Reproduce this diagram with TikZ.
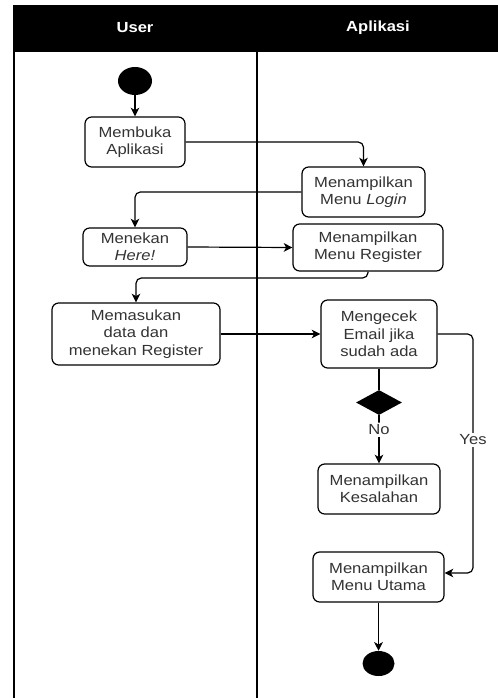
\documentclass[tikz,border=0pt]{standalone}
\usepackage{fontspec}
\setmainfont{Liberation Sans}[FakeStretch=1.13]
\usetikzlibrary{arrows.meta,shapes.geometric}
\definecolor{txt}{HTML}{333333}
\tikzset{
  sz/.style 2 args={minimum width=#1*0.75pt, minimum height=#2*0.75pt},
  actbox/.style={draw=black, line width=0.9pt, rounded corners=5pt, align=center,
    inner sep=0pt, text=txt, font=\fontsize{11}{13}\selectfont},
  dot/.style={ellipse, fill=black, draw=none, inner sep=0pt},
  flow/.style={draw=black, line width=0.9pt, rounded corners=4pt,
    -{Stealth[length=6.5pt,width=6.5pt,inset=1.8pt]}},
  plain/.style={draw=black, line width=0.9pt},
  lanehead/.style={text=white, font=\bfseries\fontsize{11}{13}\selectfont},
  guard/.style={fill=white, text=txt, inner sep=1.5pt, font=\fontsize{11}{13}\selectfont},
  lane/.style={draw=black, line width=1.2pt}
}
\begin{document}
\begin{tikzpicture}[x=0.75pt,y=-0.75pt]
\useasboundingbox (0,0) rectangle (498,698);
\fill[white] (0,0) rectangle (498,698);

% swimlane frame
\fill[black] (13,5) rectangle (498,52);
\draw[lane] (14,52) -- (14,698);
\draw[lane] (257,52) -- (257,698);
\node[lanehead] (hUser) at (135,28) {User};
\node[lanehead] (hApp) at (378,28) {Aplikasi};

% activities
\node[dot, sz={34}{28}] (start) at (135,81) {};
\node[actbox, sz={100}{50}] (mb) at (135,142) {Membuka\\Aplikasi};
\node[actbox, sz={123}{50}] (login) at (363.5,192) {Menampilkan\\Menu \textit{Login}};
\node[actbox, sz={104}{38}] (men) at (135,247) {Menekan\\\textit{Here!}};
\node[actbox, sz={150}{47}] (reg) at (368,247.5) {Menampilkan\\Menu Register};
\node[actbox, sz={168}{62}] (mas) at (136,334) {Memasukan\\data dan\\menekan Register};
\node[actbox, sz={116}{68}] (cek) at (379,334) {Mengecek\\Email jika\\sudah ada};
\node[diamond, fill=black, inner sep=0pt, sz={46}{25}] (dec) at (379,402.5) {};
\node[actbox, sz={122}{50}] (kes) at (379,489) {Menampilkan\\Kesalahan};
\node[actbox, sz={131}{50}] (uta) at (378.5,577) {Menampilkan\\Menu Utama};
\node[dot, sz={32}{25}] (end) at (378.5,663.5) {};

% bends
\coordinate (regdrop) at (368,278);
\coordinate (yescorner) at (473,334);
\coordinate (yesin) at (473,573);

% transitions
\draw[flow] (start) -- (mb);
\draw[flow] (mb.east) -| (login.north);
\draw[flow] (login.west) -| (men.north);
\draw[flow] (men.east) -- (reg.west);
\draw[flow] (reg.south) -- (regdrop) -| (mas.north);
\draw[flow] (mas.east) -- (cek.west);
\draw[plain] (cek.south) -- (dec.north);
\draw[flow] (dec.south) -- node[guard, pos=0.3] (no) {No} (kes.north);
\draw[flow] (cek.east) -- (yescorner) -- (yesin) -- (uta.east |- yesin);
\node[guard] (yes) at (473,440) {Yes};
\draw[flow] (uta.south) -- (end.north);
\end{tikzpicture}
\end{document}
